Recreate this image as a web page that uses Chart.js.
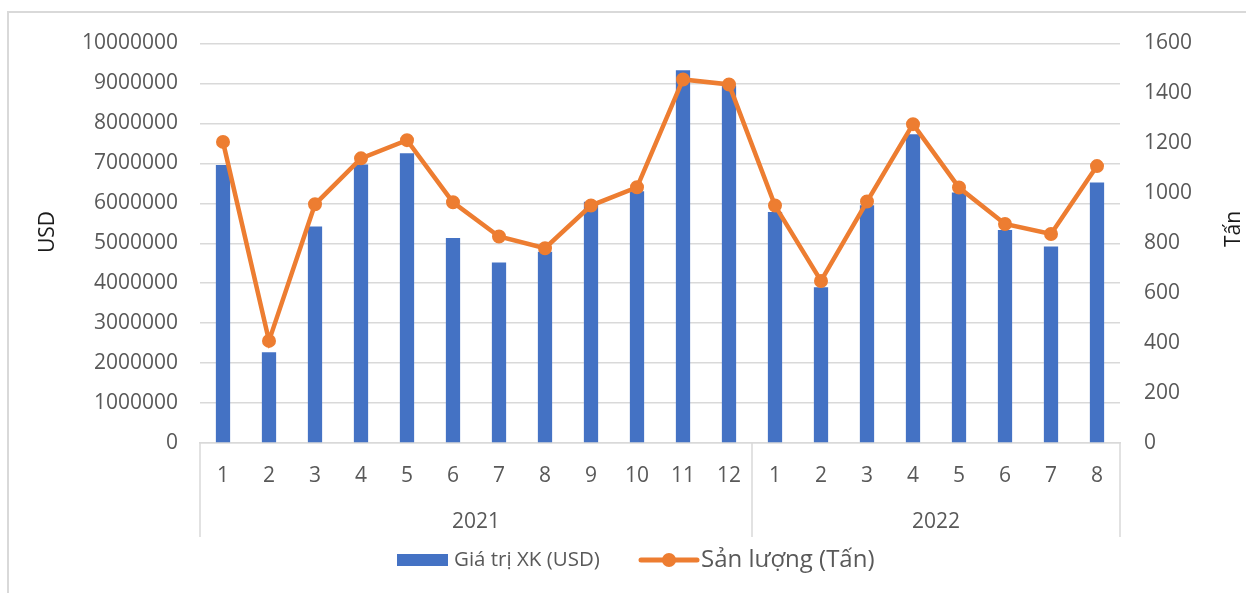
<!DOCTYPE html>
<html>
<head>
<meta charset="utf-8">
<script src="https://cdn.jsdelivr.net/npm/chart.js@4/dist/chart.umd.min.js"></script>
<style>
  html, body { margin: 0; padding: 0; background: #ffffff; }
  #wrap { width: 1246px; height: 593px; position: relative; }
</style>
</head>
<body>
<div id="wrap"><canvas id="c" width="1246" height="593"></canvas></div>
<script>
// Months per year (two-level category axis)
const months2021 = ['1','2','3','4','5','6','7','8','9','10','11','12'];
const months2022 = ['1','2','3','4','5','6','7','8'];
const years = ['2021', '2022'];
const yearMonths = [months2021, months2022];

// Export value (USD), one per month
const exportValueUsd = [
  6960000, 2270000, 5420000, 6970000, 7250000, 5130000, 4520000, 4790000, 6040000, 6300000, 9330000, 8950000,
  5780000, 3900000, 5950000, 7730000, 6270000, 5330000, 4920000, 6520000
];

// Volume (tonnes), one per month
const volumeTons = [
  1206, 409, 956, 1140, 1213, 964, 827, 780, 951, 1024, 1456, 1436,
  951, 649, 967, 1277, 1023, 877, 837, 1109
];

const leftTicks = [0, 10000000, 1000000];   // min, max, step
const rightTicks = [0, 1600, 200];

const seriesNames = ['Giá trị XK (USD)', 'Sản lượng (Tấn)'];
const axisTitles = ['USD', 'Tấn'];

const labels = yearMonths.flat();

const FONT = "'Open Sans', 'DejaVu Sans', sans-serif";
const BLUE = '#4472C4';
const ORANGE = '#ED7D31';
const GRID = '#D9D9D9';
const TICK = '#595959';

// Frame, grouped year labels, axis titles and legend
const decorations = {
  id: 'decorations',
  beforeDraw(chart) {
    const ctx = chart.ctx;
    ctx.save();
    ctx.fillStyle = '#ffffff';
    ctx.fillRect(0, 0, chart.width, chart.height);
    ctx.strokeStyle = GRID;
    ctx.lineWidth = 2;
    ctx.beginPath();
    ctx.moveTo(8, chart.height);
    ctx.lineTo(8, 12);
    ctx.lineTo(chart.width, 12);
    ctx.stroke();
    ctx.restore();
  },
  afterDraw(chart) {
    const ctx = chart.ctx;
    const x = chart.scales.x;
    const area = chart.chartArea;
    ctx.save();

    // group dividers and year labels
    const bounds = [x.left];
    let idx = 0;
    yearMonths.forEach((m, g) => {
      idx += m.length;
      if (g < yearMonths.length - 1) {
        bounds.push((x.getPixelForValue(idx - 1) + x.getPixelForValue(idx)) / 2);
      }
    });
    bounds.push(x.right);
    ctx.strokeStyle = GRID;
    ctx.lineWidth = 1.5;
    bounds.forEach(bx => {
      ctx.beginPath();
      ctx.moveTo(bx, area.bottom);
      ctx.lineTo(bx, area.bottom + 94);
      ctx.stroke();
    });
    ctx.fillStyle = TICK;
    ctx.font = '21px ' + FONT;
    ctx.textAlign = 'center';
    ctx.textBaseline = 'middle';
    years.forEach((y, i) => {
      ctx.fillText(y, (bounds[i] + bounds[i + 1]) / 2, area.bottom + 79);
    });

    // axis titles
    ctx.fillStyle = '#1a1a1a';
    ctx.font = '21px ' + FONT;
    ctx.save();
    ctx.translate(48, 232);
    ctx.rotate(-Math.PI / 2);
    ctx.fillText(axisTitles[0], 0, 0);
    ctx.restore();
    ctx.save();
    ctx.translate(1234, 229);
    ctx.rotate(-Math.PI / 2);
    ctx.fillText(axisTitles[1], 0, 0);
    ctx.restore();

    // legend
    const ly = 560;
    ctx.fillStyle = BLUE;
    ctx.fillRect(397, ly - 6, 51, 12);
    ctx.fillStyle = TICK;
    ctx.textAlign = 'left';
    ctx.font = '20.5px ' + FONT;
    ctx.fillText(seriesNames[0], 454, ly);

    ctx.strokeStyle = ORANGE;
    ctx.lineWidth = 5;
    ctx.lineCap = 'round';
    ctx.beginPath();
    ctx.moveTo(641, ly);
    ctx.lineTo(697, ly);
    ctx.stroke();
    ctx.fillStyle = ORANGE;
    ctx.beginPath();
    ctx.arc(669, ly, 7, 0, Math.PI * 2);
    ctx.fill();
    ctx.fillStyle = TICK;
    ctx.font = '24px ' + FONT;
    ctx.fillText(seriesNames[1], 701, ly);

    ctx.restore();
  }
};

new Chart(document.getElementById('c'), {
  data: {
    labels: labels,
    datasets: [
      {
        type: 'line',
        label: seriesNames[1],
        data: volumeTons,
        yAxisID: 'y2',
        borderColor: ORANGE,
        backgroundColor: ORANGE,
        borderWidth: 4.5,
        pointRadius: 6,
        pointBorderWidth: 2,
        pointBackgroundColor: ORANGE,
        pointBorderColor: ORANGE,
        tension: 0,
        order: 0
      },
      {
        type: 'bar',
        label: seriesNames[0],
        data: exportValueUsd,
        yAxisID: 'y',
        backgroundColor: BLUE,
        borderWidth: 0,
        barPercentage: 0.31,
        categoryPercentage: 1.0,
        order: 1
      }
    ]
  },
  options: {
    responsive: false,
    devicePixelRatio: 1,
    animation: false,
    layout: { padding: { top: 43.5, left: 0, right: 0, bottom: 0 } },
    plugins: {
      legend: { display: false },
      tooltip: { enabled: false }
    },
    scales: {
      x: {
        type: 'category',
        offset: true,
        grid: { display: false, drawTicks: false },
        border: { display: true, color: GRID, width: 1.5 },
        ticks: {
          color: TICK,
          font: { family: FONT, size: 21 },
          padding: 20,
          maxRotation: 0,
          autoSkip: false
        },
        afterFit(s) { s.height = 150; }
      },
      y: {
        position: 'left',
        min: leftTicks[0],
        max: leftTicks[1],
        grid: { color: GRID, lineWidth: 1.5, drawTicks: false },
        border: { display: false },
        ticks: {
          stepSize: leftTicks[2],
          color: TICK,
          font: { family: FONT, size: 21 },
          padding: 22,
          callback: v => String(v)
        },
        afterFit(s) { s.width = 200; }
      },
      y2: {
        position: 'right',
        min: rightTicks[0],
        max: rightTicks[1],
        grid: { drawOnChartArea: false, drawTicks: false },
        border: { display: false },
        ticks: {
          stepSize: rightTicks[2],
          color: TICK,
          font: { family: FONT, size: 21 },
          padding: 24,
          callback: v => String(v)
        },
        afterFit(s) { s.width = 126; }
      }
    }
  },
  plugins: [decorations]
});
</script>
</body>
</html>
